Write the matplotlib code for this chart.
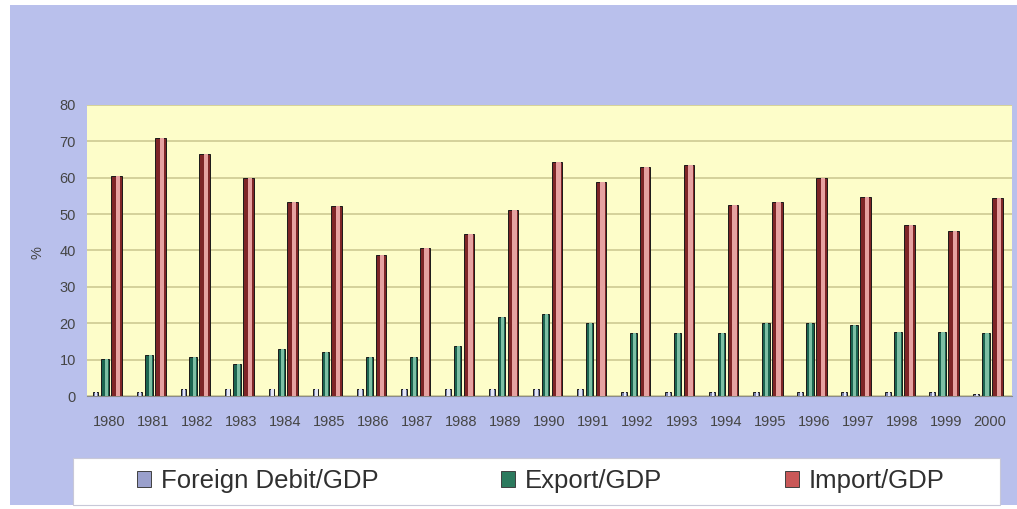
import numpy as np
import matplotlib
matplotlib.use("Agg")
import matplotlib.pyplot as plt
from matplotlib.patches import Rectangle, Patch

plt.rcParams['font.family'] = ['Liberation Sans', 'DejaVu Sans']

years = [str(y) for y in range(1980, 2001)]
foreign_debit = [1.2, 1.2, 1.8, 1.8, 1.8, 2.0, 2.0, 2.0, 2.0, 2.0, 2.0,
                 2.0, 1.0, 1.0, 1.0, 1.0, 1.0, 1.0, 1.0, 1.0, 0.5]
export_gdp = [10.1, 11.3, 10.8, 8.8, 12.8, 12.2, 10.6, 10.8, 13.7, 21.8, 22.5,
              20.1, 17.4, 17.4, 17.4, 20.1, 20.1, 19.5, 17.7, 17.7, 17.4]
import_gdp = [60.5, 71.0, 66.5, 59.8, 53.3, 52.3, 38.8, 40.8, 44.5, 51.0, 64.2,
              58.9, 62.9, 63.4, 52.6, 53.2, 59.9, 54.8, 47.0, 45.4, 54.4]

W, H = 1017, 509
fig = plt.figure(figsize=(W / 100, H / 100), dpi=100)
fig.patch.set_facecolor('white')

# lavender chart area
fig.patches.append(Rectangle((10 / W, 4 / H), 1007 / W, 500 / H,
                             transform=fig.transFigure, facecolor='#b9c0ec',
                             edgecolor='none', zorder=-2))
# legend box
fig.patches.append(Rectangle((73 / W, 4 / H), 927 / W, 47 / H,
                             transform=fig.transFigure, facecolor='white',
                             edgecolor='#c8c8d8', lw=0.8, zorder=-1))

ax = fig.add_axes([87 / W, (H - 396) / H, (1012 - 87) / W, (396 - 105) / H])
ax.set_facecolor('#fdfdc9')

x = np.arange(len(years))
# values, offset, width, dark face, lit face
series = [
    (foreign_debit, -0.31, 0.13, '#7a82ac', '#e4e6f4'),
    (export_gdp, -0.09, 0.17, '#1b6450', '#7dbfa4'),
    (import_gdp, 0.17, 0.24, '#7e2527', '#e6a2a1'),
]
for vals, off, w, dark, light in series:
    ax.bar(x + off, vals, width=w, color=dark, edgecolor='#1a1a1a',
           linewidth=0.7, zorder=3)
    ax.bar(x + off + w * 0.14, vals, width=w * 0.42, color=light,
           linewidth=0, zorder=4)

ax.set_xlim(-0.5, len(years) - 0.5)
ax.set_ylim(0, 80)
ax.set_yticks(range(0, 81, 10))
ax.yaxis.grid(True, color='#c9c58e', linewidth=1.1, zorder=1)
ax.set_axisbelow(True)
ax.set_xticks(x)
ax.set_xticklabels(years)
ax.tick_params(axis='both', length=0, labelsize=10.5, labelcolor='#454545')
ax.tick_params(axis='x', pad=14)
ax.tick_params(axis='y', pad=8)
for side in ['top', 'right', 'left']:
    ax.spines[side].set_visible(False)
ax.spines['bottom'].set_color('#8a8a8a')
ax.spines['bottom'].set_linewidth(0.8)

fig.text(37 / W, 1 - 253 / H, '%', rotation=90, fontsize=10.5,
         color='#454545', ha='center', va='center')

handles = [Patch(facecolor='#9aa0cc', edgecolor='#404040', lw=0.7),
           Patch(facecolor='#2c7a5e', edgecolor='#404040', lw=0.7),
           Patch(facecolor='#c95858', edgecolor='#404040', lw=0.7)]
labels = ['Foreign Debit/GDP', 'Export/GDP', 'Import/GDP']
fig.legend(handles, labels, loc='center left',
           bbox_to_anchor=(124 / W, 1 - 481 / H), ncol=3, frameon=False,
           fontsize=18.5, handlelength=0.55, handleheight=0.55,
           handletextpad=0.4, columnspacing=4.75, borderpad=0,
           labelcolor='#303030')

fig.savefig('out.png', dpi=100, facecolor=fig.get_facecolor())
